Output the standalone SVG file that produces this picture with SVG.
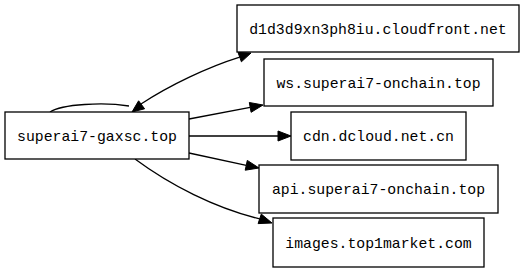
<svg xmlns="http://www.w3.org/2000/svg" width="525" height="272" viewBox="0 0 525 272">
<style>
.box{fill:#fff;stroke:#000;stroke-width:1.3}
.lbl{font-family:"Liberation Mono","DejaVu Sans Mono",monospace;font-size:14.8px;fill:#000;text-anchor:middle}
.edge{fill:none;stroke:#000;stroke-width:1.3}
.head{fill:#000;stroke:#000;stroke-width:1}
</style>
<rect width="525" height="272" fill="#fff"/>
<g id="connectors">
<path class="edge" d="M50,112 C62,104 104,102 129,106"/>
<polygon class="head" points="132,112 144.6,108.8 138.6,100.8"/>
<path class="edge" d="M141,104 C170,85 208,67 239.7,57.1"/>
<polygon class="head" points="251,53 241.4,61.8 238,52.4"/>
<path class="edge" d="M189,119 L250.2,107.4"/>
<polygon class="head" points="263,105 251.1,112.3 249.3,102.5"/>
<path class="edge" d="M189,136 L278,136"/>
<polygon class="head" points="291,136 278,131 278,141"/>
<path class="edge" d="M189,153 L246.3,165.3"/>
<polygon class="head" points="259,168 245.2,170.2 247.3,160.4"/>
<path class="edge" d="M135,159 C170,185 215,208 259.7,218.9"/>
<polygon class="head" points="272,223 258.1,223.6 261.3,214.1"/>
</g>
<g id="n0"><rect class="box" x="5" y="112" width="184" height="47"/><text class="lbl" x="97" y="140.5">superai7-gaxsc.top</text></g>
<g id="n1"><rect class="box" x="237" y="5" width="282" height="47"/><text class="lbl" x="378" y="33.5">d1d3d9xn3ph8iu.cloudfront.net</text></g>
<g id="n2"><rect class="box" x="264" y="59" width="229" height="47"/><text class="lbl" x="378.5" y="87.5">ws.superai7-onchain.top</text></g>
<g id="n3"><rect class="box" x="291" y="112" width="175" height="48"/><text class="lbl" x="378.5" y="141">cdn.dcloud.net.cn</text></g>
<g id="n4"><rect class="box" x="259" y="165" width="239" height="48"/><text class="lbl" x="378.5" y="194">api.superai7-onchain.top</text></g>
<g id="n5"><rect class="box" x="273" y="218" width="211" height="49"/><text class="lbl" x="378.5" y="247.5">images.top1market.com</text></g>
</svg>
